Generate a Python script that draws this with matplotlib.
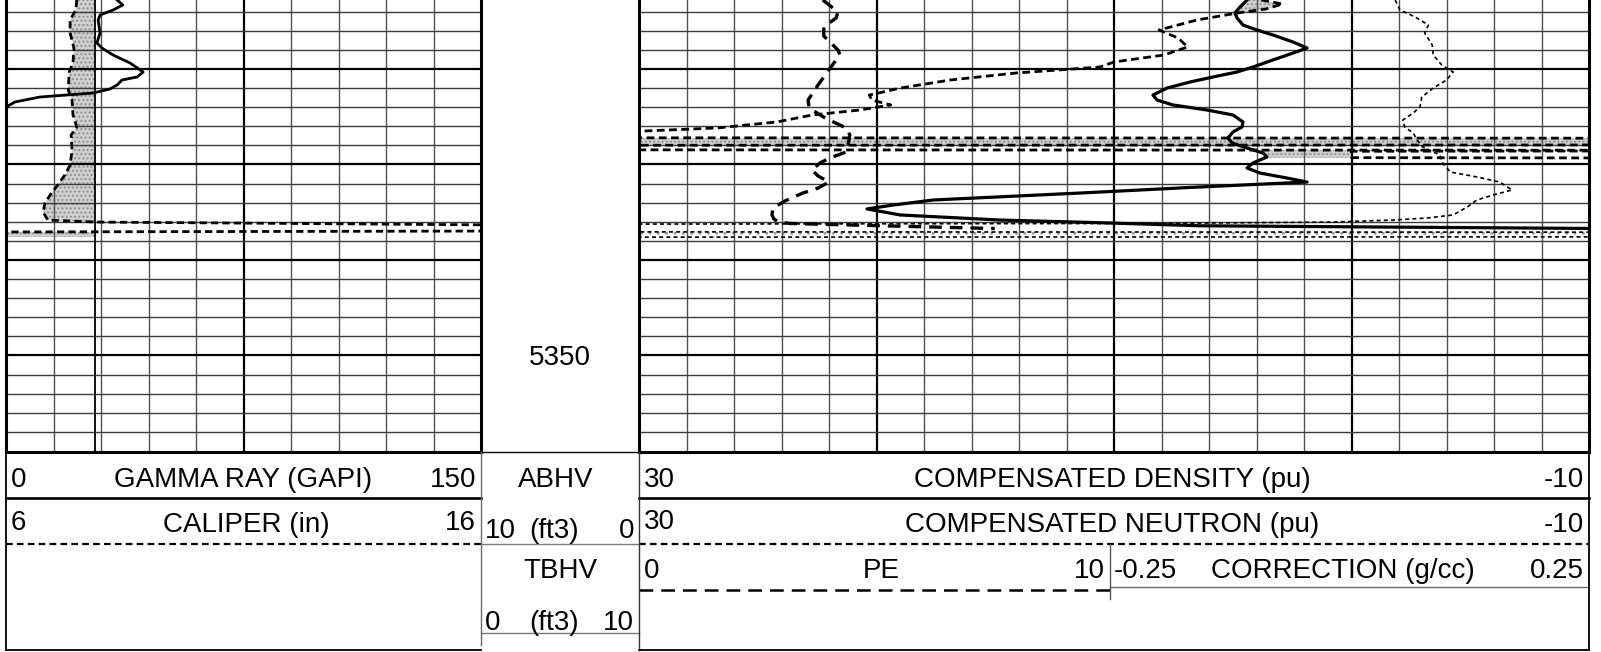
import numpy as np
import matplotlib
matplotlib.use("Agg")
import matplotlib.pyplot as plt
from matplotlib.transforms import blended_transform_factory, offset_copy

plt.rcParams['font.family'] = ['Liberation Sans', 'DejaVu Sans']
plt.rcParams['hatch.linewidth'] = 0.9

# ---------------- data ----------------
depth_top = 5312.78
depth_bottom = 5360.11
depth_label = 5350
depth_major_step = 10
depth_minor_step = 2

# Track 1: gamma ray (GAPI) and caliper (in)
gr_depth = [5312.78, 5313.30, 5313.83, 5314.35, 5314.87, 5316.24, 5317.28, 5317.81,
            5318.54, 5319.38, 5320.32, 5320.84, 5321.16, 5321.68, 5322.10, 5322.52,
            5322.94, 5323.46, 5323.88, 5324.30, 5336.03]
gr_value = [35.1, 36.9, 33.8, 29.7, 29.1, 29.7, 28.7, 30.3,
            33.8, 39.2, 43.3, 41.4, 36.6, 35.1, 32.8, 27.5,
            10.7, 2.8, 0.6, 0.0, 0.0]

cal_depth = [5312.78, 5313.83, 5314.87, 5316.24, 5317.81, 5319.38, 5320.32, 5322.20,
             5323.25, 5324.82, 5326.08, 5326.92, 5328.49, 5330.06, 5331.10, 5332.15,
             5333.20, 5334.04, 5334.98, 5335.82, 5336.03, 5336.34, 5336.97, 5337.07,
             5337.60]
cal_value = [7.49, 7.47, 7.35, 7.35, 7.43, 7.41, 7.33, 7.31,
             7.39, 7.41, 7.49, 7.37, 7.39, 7.35, 7.24, 7.09,
             6.93, 6.82, 6.78, 6.88, 7.87, 16.5, 16.5, 5.9,
             5.9]
bit_size = 7.875

# Track 3: density porosity, neutron porosity (pu), PE, correction (g/cc)
dens_depth = [5312.78, 5313.51, 5314.14, 5314.66, 5315.40, 5315.92, 5316.44, 5317.18,
              5317.81, 5318.33, 5319.06, 5319.80, 5320.32, 5320.84, 5321.37, 5322.00,
              5322.73, 5323.25, 5323.77, 5324.30, 5324.82, 5325.55, 5326.08, 5326.60,
              5327.23, 5327.75, 5328.28, 5328.80, 5329.22, 5329.85, 5330.37, 5330.90,
              5331.42, 5331.84, 5332.41, 5332.99, 5333.72, 5334.25, 5334.66, 5335.29,
              5335.82, 5336.10, 5336.42, 5336.71]
dens_value = [4.40, 4.69, 4.91, 4.82, 4.57, 3.98, 3.31, 2.46,
              1.87, 2.46, 3.31, 4.15, 4.82, 5.83, 6.80, 7.77,
              8.36, 8.19, 7.52, 6.08, 4.99, 4.57, 4.61, 4.99,
              5.20, 5.03, 4.40, 3.73, 3.56, 4.15, 4.40, 3.85,
              2.72, 1.87, 6.8, 11.4, 17.6, 19.3, 20.4, 19.0,
              14.8, 10.6, 6.4, -10.5]

neut_depth = [5312.78, 5313.20, 5313.72, 5314.14, 5314.87, 5315.92, 5316.76, 5317.70,
              5318.54, 5319.27, 5319.80, 5320.42, 5321.16, 5322.00, 5322.73, 5323.25,
              5323.77, 5324.30, 5324.82, 5325.55, 5326.18, 5326.50, 5326.71, 5327.21,
              5327.25, 5327.96, 5327.99, 5328.47, 5328.51, 5328.59, 5328.62, 5329.29,
              5329.32]
neut_value = [3.8, 2.9, 3.6, 4.8, 6.5, 8.1, 7.3, 6.9,
              7.9, 10.0, 10.6, 14.1, 16.9, 19.0, 20.3, 20.2,
              19.4, 20.7, 22.7, 24.2, 26.7, 29.8, 31.0, 31.0,
              -11.0, -11.0, 31.0, 31.0, -11.0, -11.0, 0.0, 0.0,
              -11.0]

pe_depth = [5312.78, 5314.04, 5314.66, 5315.61, 5316.55, 5318.02, 5318.54, 5319.80,
            5321.68, 5323.25, 5324.09, 5325.14, 5326.18, 5326.92, 5327.96, 5328.70,
            5329.32, 5329.85, 5330.58, 5331.21, 5331.84, 5332.47, 5332.99, 5333.83,
            5334.56, 5335.29, 5335.71, 5336.03, 5336.18, 5336.71]
pe_value = [3.87, 4.19, 4.15, 3.89, 3.89, 4.19, 4.23, 4.04,
            3.77, 3.56, 3.58, 3.92, 4.36, 4.44, 4.40, 4.36,
            4.02, 3.81, 3.64, 3.77, 4.00, 3.77, 3.45, 3.07,
            2.82, 2.80, 2.84, 2.93, 3.18, 7.49]

corr_depth = [5312.78, 5312.99, 5313.83, 5314.56, 5315.40, 5316.24, 5317.49, 5318.54,
              5319.59, 5320.32, 5321.16, 5322.00, 5322.94, 5323.98, 5324.61, 5325.35,
              5326.08, 5326.71, 5327.44, 5328.17, 5329.01, 5329.85, 5330.79, 5331.31,
              5331.84, 5332.67, 5333.20, 5333.72, 5334.45, 5335.29, 5335.61, 5335.82,
              5336.03, 5336.18, 5336.25, 5337.06, 5337.09, 5337.58, 5337.61]
corr_value = [0.046, 0.047, 0.051, 0.067, 0.081, 0.077, 0.085, 0.086,
              0.095, 0.107, 0.100, 0.086, 0.074, 0.072, 0.065, 0.054,
              0.056, 0.065, 0.069, 0.075, 0.093, 0.096, 0.104, 0.132,
              0.156, 0.169, 0.149, 0.132, 0.122, 0.107, 0.079, 0.044,
              -0.019, -0.21, -0.80, -0.80, 0.30, 0.30, -0.80]

# washed-out intervals shaded across track 3
band_top = [5327.21, 5337.09]
band_bottom = [5327.96, 5337.58]

# scales
gr_range = (0, 150)
cal_range = (6, 16)
por_range = (30, -10)
pe_range = (0, 20)          # 0..10 over the left half of the track
corr_range = (-0.75, 0.25)  # -0.25..0.25 over the right half of the track

# ---------------- layout ----------------
W, H = 1601, 652
fig = plt.figure(figsize=(W / 100, H / 100), dpi=100)


def rect(x0, y0, x1, y1):
    return [x0 / W, 1 - y1 / H, (x1 - x0) / W, (y1 - y0) / H]


T1 = (6, 0, 481, 452)
T2 = (481, 0, 639, 452)
T3 = (639, 0, 1589, 452)

STIPPLE = dict(facecolor='#cfcfcf', edgecolor='#8c8c8c', hatch='....', linewidth=0)
MINOR = '#3c3c3c'


def style_track(ax, xlim, ndiv, major_every):
    ax.set_xlim(*xlim)
    ax.set_ylim(depth_bottom, depth_top)
    ax.set_xticks([])
    ax.set_yticks([])
    xs = np.linspace(xlim[0], xlim[1], ndiv + 1)
    for i in range(1, ndiv):
        major = (i % major_every == 0)
        ax.axvline(xs[i], color='black' if major else '#505050',
                   lw=1.6 if major else 1.0, zorder=2)
    d0 = np.ceil(depth_top / depth_minor_step) * depth_minor_step
    for d in np.arange(d0, depth_bottom - 0.5, depth_minor_step):
        major = abs(d / depth_major_step - round(d / depth_major_step)) < 1e-6
        ax.axhline(d, color='black' if major else MINOR,
                   lw=1.6 if major else 1.0, zorder=2)
    ax.spines['top'].set_visible(False)
    for s in ('left', 'right', 'bottom'):
        ax.spines[s].set_linewidth(2.2)
        ax.spines[s].set_color('black')
        ax.spines[s].set_zorder(6)


def overlay(r, xlim):
    ax = fig.add_axes(r)
    ax.set_xlim(*xlim)
    ax.set_ylim(depth_bottom, depth_top)
    ax.axis('off')
    ax.patch.set_alpha(0)
    return ax


grid = np.linspace(depth_top, depth_bottom, 6000)

# ---- Track 1 ----
ax1 = fig.add_axes(rect(*T1))
style_track(ax1, cal_range, 10, 5)
cal_i = np.interp(grid, cal_depth, cal_value, left=np.nan, right=np.nan)
m = np.isfinite(cal_i)
cal_f = np.where(m, cal_i, bit_size)
ax1.fill_betweenx(grid, cal_f, bit_size, where=m & (cal_f < bit_size),
                  interpolate=True, zorder=1, **STIPPLE)
ax1.axvline(bit_size, color='black', lw=1.3, zorder=3)
ax1.plot(cal_value, cal_depth, color='black', lw=2.0, dashes=(2.6, 1.5), zorder=4)

ax_gr = overlay(rect(*T1), gr_range)
ax_gr.plot(gr_value, gr_depth, color='black', lw=2.0, zorder=5)

# ---- Track 2 (depth) ----
ax2 = fig.add_axes(rect(*T2))
ax2.set_ylim(depth_bottom, depth_top)
ax2.axis('off')
tr = blended_transform_factory(ax2.transAxes, ax2.transData)
ax2.text(0.5, depth_label, f"{depth_label}", fontsize=20, ha='center', va='center',
         transform=offset_copy(tr, fig=fig, y=-3, units='dots'))

# ---- Track 3 ----
ax3 = fig.add_axes(rect(*T3))
style_track(ax3, por_range, 20, 5)
for t, b in zip(band_top, band_bottom):
    if t < 5330:
        ax3.axhspan(t, b, zorder=1, **STIPPLE)
    else:
        ax3.axhspan(t, b, zorder=1, facecolor='white', edgecolor='#9a9a9a',
                    hatch='..', linewidth=0)

dens_i = np.interp(grid, dens_depth, dens_value, left=np.nan, right=np.nan)
neut_i = np.interp(grid, neut_depth, neut_value, left=np.nan, right=np.nan)
valid = np.isfinite(dens_i) & np.isfinite(neut_i)
d_f = np.where(valid, dens_i, 0)
n_f = np.where(valid, neut_i, 0)
ax3.fill_betweenx(grid, d_f, n_f, where=valid & (n_f < d_f), interpolate=True,
                  zorder=1, **STIPPLE)

ax3.plot(neut_value, neut_depth, color='black', lw=2.0, dashes=(2.8, 1.6), zorder=4)
ax3.plot(dens_value, dens_depth, color='black', lw=2.3, zorder=5)

ax_pe = overlay(rect(*T3), pe_range)
ax_pe.plot(pe_value, pe_depth, color='black', lw=2.4, dashes=(3.8, 2.4), zorder=5)

ax_corr = overlay(rect(*T3), corr_range)
ax_corr.plot(corr_value, corr_depth, color='black', lw=1.2, dashes=(2.4, 1.9), zorder=5)

# ---------------- header ----------------
hdr = fig.add_axes([0, 0, 1, 1])
hdr.set_xlim(0, W)
hdr.set_ylim(H, 0)
hdr.axis('off')
hdr.patch.set_alpha(0)


def hline(y, x0, x1, **kw):
    hdr.plot([x0, x1], [y, y], **kw)


def vline(x, y0, y1, **kw):
    hdr.plot([x, x], [y0, y1], **kw)


hline(452, 481, 639, color='black', lw=1.0)
hline(498, 6, 481, color='black', lw=1.9)
hline(498, 639, 1589, color='black', lw=1.9)
hline(544, 6, 481, color='black', lw=1.6, dashes=(3.0, 1.9))
hline(544, 639, 1589, color='black', lw=1.6, dashes=(3.0, 1.9))
hline(544, 481, 639, color='#7a7a7a', lw=1.0)
hline(590, 639, 1110, color='black', lw=1.8, dashes=(5.5, 3.2))
hline(587, 1110, 1589, color='#6a6a6a', lw=1.0)
hline(633, 481, 639, color='#7a7a7a', lw=1.0)
vline(1110, 544, 599, color='#555555', lw=1.0)
vline(6, 452, 650, color='black', lw=1.3)
vline(481, 452, 645, color='#6a6a6a', lw=1.0)
vline(639, 452, 650, color='#333333', lw=1.0)
vline(1589, 452, 650, color='black', lw=1.3)
hline(650, 6, 481, color='black', lw=1.3)
hline(650, 639, 1589, color='black', lw=1.3)

header_texts = [
    ("0", 11, 480, 'left'), ("GAMMA RAY (GAPI)", 243, 480, 'center'), ("150", 476, 480, 'right'),
    ("ABHV", 556, 480, 'center'),
    ("30", 644, 480, 'left'), ("COMPENSATED DENSITY (pu)", 1112, 480, 'center'), ("-10", 1584, 480, 'right'),
    ("6", 11, 523, 'left'), ("CALIPER (in)", 246, 525, 'center'), ("16", 476, 523, 'right'),
    ("10", 485, 531, 'left'), ("(ft3)", 554, 531, 'center'), ("0", 634, 531, 'right'),
    ("30", 644, 522, 'left'), ("COMPENSATED NEUTRON (pu)", 1112, 525, 'center'), ("-10", 1584, 525, 'right'),
    ("TBHV", 560, 571, 'center'),
    ("0", 644, 571, 'left'), ("PE", 881, 571, 'center'), ("10", 1105, 571, 'right'),
    ("-0.25", 1114, 571, 'left'), ("CORRECTION (g/cc)", 1343, 571, 'center'), ("0.25", 1584, 571, 'right'),
    ("0", 485, 623, 'left'), ("(ft3)", 554, 623, 'center'), ("10", 634, 623, 'right'),
]
for txt, x, y, ha in header_texts:
    hdr.text(x, y, txt, fontsize=20, ha=ha, va='center', color='black')

fig.savefig("out.png", dpi=100)
